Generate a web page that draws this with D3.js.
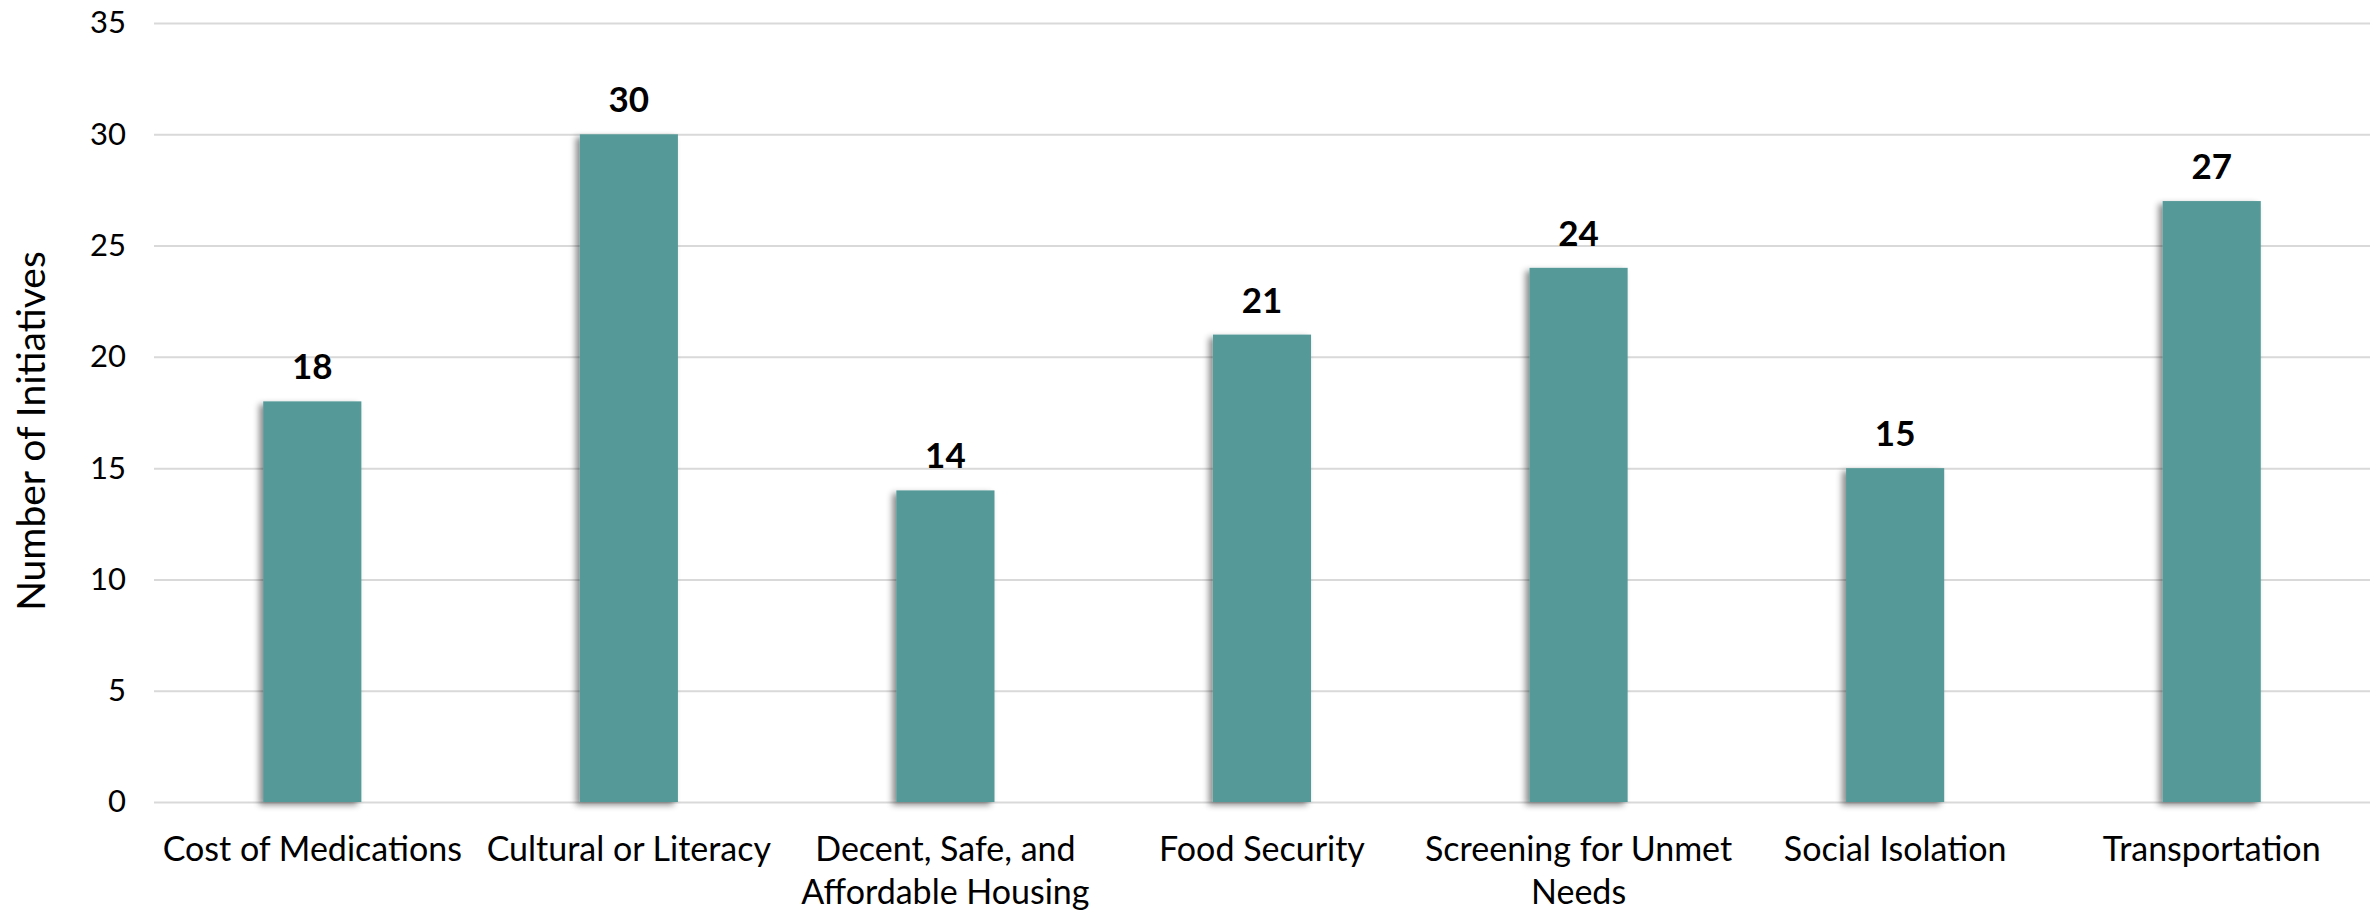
<!DOCTYPE html>
<html>
<head>
<meta charset="utf-8">
<script src="https://cdn.jsdelivr.net/npm/d3@7"></script>
<style>
  html, body { margin: 0; padding: 0; background: #fff; }
  svg { display: block; }
  text { font-family: Lato, "Open Sans", sans-serif; fill: #000; }
</style>
</head>
<body>
<svg id="chart" width="2380" height="913"></svg>
<script>
// Initiatives per social-need category
const categories = [
  "Cost of Medications",
  "Cultural or Literacy",
  "Decent, Safe, and Affordable Housing",
  "Food Security",
  "Screening for Unmet Needs",
  "Social Isolation",
  "Transportation"
];
const initiatives = [18, 30, 14, 21, 24, 15, 27];
const yTicks = [0, 5, 10, 15, 20, 25, 30, 35];
const yTitle = "Number of Initiatives";

const W = 2380, H = 913;
const margin = { top: 23, right: 10, bottom: 111, left: 154 };
const svg = d3.select("#chart");

const x = d3.scaleBand()
  .domain(categories)
  .range([margin.left, W - margin.right])
  .paddingInner(0.69)
  .paddingOuter(0.345);

const y = d3.scaleLinear()
  .domain([0, 35])
  .range([H - margin.bottom, margin.top]);

// soft shadow behind each bar
const defs = svg.append("defs");
const f = defs.append("filter").attr("id", "barShadow")
  .attr("x", "-20%").attr("y", "-5%").attr("width", "140%").attr("height", "110%");
f.append("feDropShadow")
  .attr("dx", -4).attr("dy", 3)
  .attr("stdDeviation", 3)
  .attr("flood-color", "#000")
  .attr("flood-opacity", 0.45);

// horizontal gridlines + tick labels
const yAxis = d3.axisLeft(y)
  .tickValues(yTicks)
  .tickSize(-(W - margin.right - margin.left))
  .tickPadding(28)
  .tickFormat(d3.format("d"));

const gy = svg.append("g")
  .attr("transform", `translate(${margin.left},0)`)
  .call(yAxis);
gy.select(".domain").remove();
gy.selectAll(".tick line").attr("stroke", "#d9d9d9").attr("stroke-width", 2);
gy.selectAll(".tick text")
  .attr("font-size", 31)
  .attr("font-family", "Lato, sans-serif")
  .attr("fill", "#000");

// bars
svg.append("g").selectAll("rect")
  .data(categories)
  .join("rect")
  .attr("x", d => x(d))
  .attr("width", x.bandwidth())
  .attr("y", (d, i) => y(initiatives[i]))
  .attr("height", (d, i) => y(0) - y(initiatives[i]))
  .attr("fill", "#559a99")
  .attr("filter", "url(#barShadow)");

// value labels
svg.append("g").selectAll("text")
  .data(categories)
  .join("text")
  .attr("x", d => x(d) + x.bandwidth() / 2)
  .attr("y", (d, i) => y(initiatives[i]) - 22)
  .attr("text-anchor", "middle")
  .attr("font-size", 35)
  .attr("font-weight", "bold")
  .text((d, i) => initiatives[i]);

// category labels, wrapped to the band step
const labelSize = 34;
const lineHeight = 43;
const maxWidth = x.step() * 1.04;
const gx = svg.append("g");
categories.forEach(cat => {
  const cx = x(cat) + x.bandwidth() / 2;
  const t = gx.append("text")
    .attr("x", cx)
    .attr("y", 861)
    .attr("text-anchor", "middle")
    .attr("font-size", labelSize);
  const words = cat.split(" ");
  let line = [];
  let tspan = t.append("tspan").attr("x", cx).attr("dy", 0);
  words.forEach(w => {
    line.push(w);
    tspan.text(line.join(" "));
    if (tspan.node().getComputedTextLength() > maxWidth && line.length > 1) {
      line.pop();
      tspan.text(line.join(" "));
      line = [w];
      tspan = t.append("tspan")
        .attr("x", cx)
        .attr("dy", lineHeight)
        .text(w);
    }
  });
});

// y-axis title
svg.append("text")
  .attr("transform", `translate(45, 431) rotate(-90)`)
  .attr("text-anchor", "middle")
  .attr("font-size", 39)
  .text(yTitle);
</script>
</body>
</html>
